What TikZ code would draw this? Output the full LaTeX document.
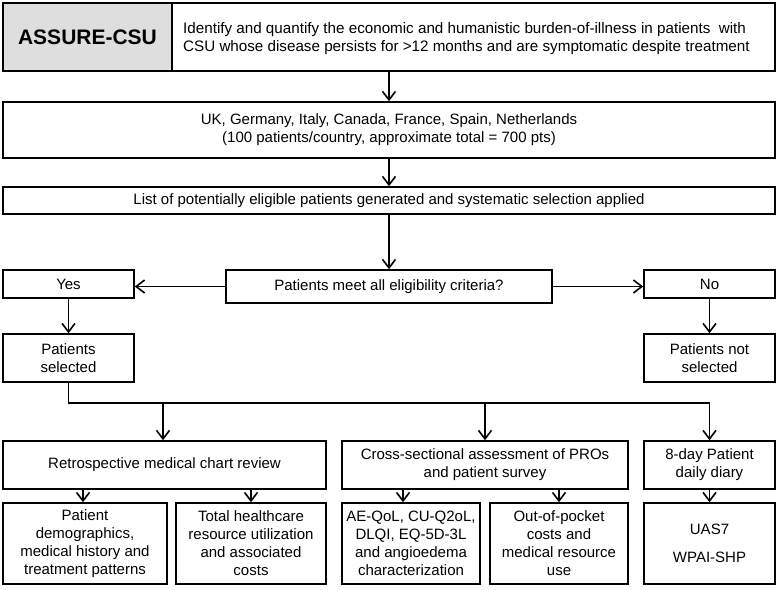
\documentclass[tikz,border=0pt]{standalone}
\usepackage{fontspec}
\setmainfont{Liberation Sans}
\usetikzlibrary{arrows.meta,calc}
\begin{document}
\begin{tikzpicture}[x=1pt,y=-1pt,
  box/.style={draw=black,line width=1.6pt,inner sep=0pt,align=center,
    font=\fontsize{15pt}{18pt}\selectfont},
  conn/.style={line width=1.6pt},
  arr/.style={line width=1.6pt,-{Straight Barb[length=8.5pt,width=13pt]}}]
\useasboundingbox (0,0) rectangle (778,589);
% top row
\node[box,fill=black!13,minimum width=169pt,minimum height=68pt,
  font=\fontsize{21pt}{25pt}\selectfont\bfseries] (title) at (87.5,37) {ASSURE-CSU};
\node[box,minimum width=603pt,minimum height=68pt] (aim) at (473.5,37) {};
\node[inner sep=0pt,align=left,anchor=west,font=\fontsize{15.2pt}{18pt}\selectfont] (aimtext) at (183,39)
  {Identify and quantify the economic and humanistic burden-of-illness in patients\ \ with\\
   CSU whose disease persists for >12 months and are symptomatic despite treatment};
\node[box,minimum width=772pt,minimum height=56pt] (country) at (389,130)
  {UK, Germany, Italy, Canada, France, Spain, Netherlands\\(100 patients/country, approximate total = 700 pts)};
\node[box,minimum width=772pt,minimum height=27pt] (list) at (389,200.5)
  {List of potentially eligible patients generated and systematic selection applied};
\node[box,minimum width=326pt,minimum height=33pt] (dec) at (389,286.5)
  {Patients meet all eligibility criteria?};
\node[box,minimum width=131pt,minimum height=28pt] (yes) at (68.5,284) {Yes};
\node[box,minimum width=131pt,minimum height=28pt] (no) at (709.5,284) {No};
\node[box,minimum width=131pt,minimum height=48pt] (sel) at (68.5,358) {Patients\\selected};
\node[box,minimum width=131pt,minimum height=48pt] (nsel) at (709.5,358) {Patients not\\selected};
% methods
\node[box,minimum width=323pt,minimum height=48pt] (retro) at (164.5,465) {Retrospective medical chart review};
\node[box,minimum width=286pt,minimum height=48pt] (cross) at (485,465)
  {Cross-sectional assessment of PROs\\and patient survey};
\node[box,minimum width=131pt,minimum height=48pt] (diary) at (709.5,465) {8-day Patient\\daily diary};
% outcomes
\node[box,minimum width=164pt,minimum height=81pt] (demo) at (85,543.5)
  {Patient\\demographics,\\medical history and\\treatment patterns};
\node[box,minimum width=150pt,minimum height=81pt] (total) at (251,543.5)
  {Total healthcare\\resource utilization\\and associated\\costs};
\node[box,minimum width=138pt,minimum height=81pt] (ae) at (411,543.5)
  {AE-QoL, CU-Q2oL,\\DLQI, EQ-5D-3L\\and angioedema\\characterization};
\node[box,minimum width=138pt,minimum height=81pt] (oop) at (559,543.5)
  {Out-of-pocket\\costs and\\medical resource\\use};
\node[box,minimum width=131pt,minimum height=81pt,font=\fontsize{15pt}{28pt}\selectfont] (uas) at (709.5,543.5)
  {UAS7\\WPAI-SHP};
% connectors
\draw[arr] (country.north |- aim.south) -- (country.north);
\draw[arr] (country.south) -- (list.north);
\draw[arr] (list.south) -- (dec.north);
\draw[arr] (dec.west) -- (dec.west -| yes.east);
\draw[arr] (dec.east) -- (dec.east -| no.west);
\draw[arr] (yes.south) -- (sel.north);
\draw[arr] (no.south) -- (nsel.north);
\coordinate (bj) at (709.5,403);
\draw[conn] (sel.south) |- (bj);
\draw[arr] ([xshift=-1.5pt]retro.north |- bj) -- ([xshift=-1.5pt]retro.north);
\draw[arr] (cross.north |- bj) -- (cross.north);
\draw[arr] (bj) -- (diary.north);
\draw[arr] ([xshift=-2pt]demo.north |- retro.south) -- ([xshift=-2pt]demo.north);
\draw[arr] (total.north |- retro.south) -- (total.north);
\draw[arr] ([xshift=-8pt]ae.north |- cross.south) -- ([xshift=-8pt]ae.north);
\draw[arr] (oop.north |- cross.south) -- (oop.north);
\draw[arr] (diary.south) -- (uas.north);
\end{tikzpicture}
\end{document}
